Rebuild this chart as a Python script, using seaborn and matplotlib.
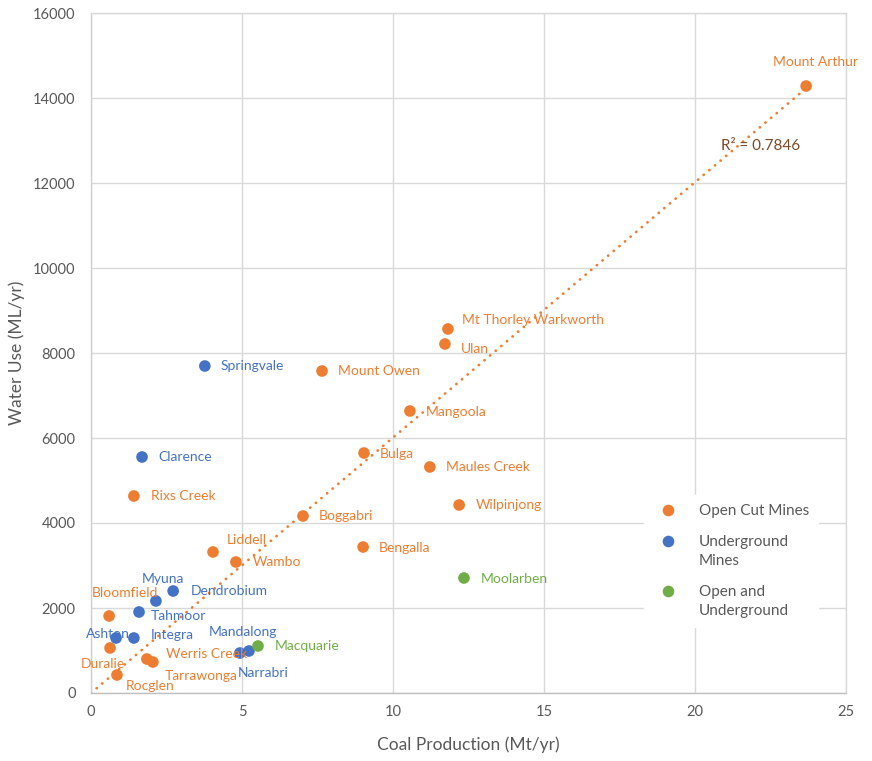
import numpy as np
import pandas as pd
import matplotlib
matplotlib.use("Agg")
import matplotlib.pyplot as plt
import seaborn as sns

# ---------------- data ----------------
open_names = ["Mount Arthur", "Mt Thorley Warkworth", "Ulan", "Mount Owen", "Mangoola",
              "Bulga", "Maules Creek", "Wilpinjong", "Boggabri", "Bengalla", "Rixs Creek",
              "Liddell", "Wambo", "Bloomfield", "Duralie", "Werris Creek", "Tarrawonga", "Rocglen"]
open_x = [23.68, 11.82, 11.72, 7.65, 10.56, 9.04, 11.22, 12.19, 7.02, 9.01, 1.42,
          4.04, 4.80, 0.60, 0.63, 1.85, 2.05, 0.86]
open_y = [14282, 8565, 8212, 7576, 6635, 5647, 5318, 4424, 4165, 3435, 4635,
          3318, 3082, 1812, 1059, 800, 729, 424]

under_names = ["Springvale", "Clarence", "Myuna", "Dendrobium", "Tahmoor", "Ashton",
               "Integra", "Mandalong", "Narrabri"]
under_x = [3.77, 1.69, 2.72, 2.15, 1.59, 0.83, 1.42, 4.93, 5.23]
under_y = [7694, 5553, 2400, 2165, 1906, 1294, 1294, 941, 988]

both_names = ["Moolarben", "Macquarie"]
both_x = [12.35, 5.53]
both_y = [2706, 1106]

categories = ["Open Cut Mines", "Underground\nMines", "Open and\nUnderground"]
colors = ["#ED7D31", "#4472C4", "#70AD47"]
r2_text = "R² = 0.7846"

x_ticks = [0, 5, 10, 15, 20, 25]
y_ticks = [0, 2000, 4000, 6000, 8000, 10000, 12000, 14000, 16000]

# label offsets in pixels (dx, dy) relative to marker
label_offsets = {
    "Mount Arthur": (9, 24), "Mt Thorley Warkworth": (14, 9), "Ulan": (16, -5),
    "Mount Owen": (16, 0), "Mangoola": (16, -1), "Bulga": (16, -1),
    "Maules Creek": (16, 0), "Wilpinjong": (17, 0), "Boggabri": (16, 0),
    "Bengalla": (16, -1), "Rixs Creek": (17, 0), "Liddell": (14, 12),
    "Wambo": (17, 0), "Bloomfield": (-17, 23), "Duralie": (-29, -16),
    "Werris Creek": (19, 5), "Tarrawonga": (12, -14), "Rocglen": (9, -11),
    "Springvale": (16, 0), "Clarence": (16, 0), "Myuna": (-31, 12),
    "Dendrobium": (35, 10), "Tahmoor": (12, -4), "Ashton": (-30, 4),
    "Integra": (17, 3), "Mandalong": (-31, 21), "Narrabri": (-11, -22),
    "Moolarben": (17, -1), "Macquarie": (17, 0),
}

df = pd.DataFrame({
    "name": open_names + under_names + both_names,
    "x": open_x + under_x + both_x,
    "y": open_y + under_y + both_y,
    "type": [categories[0]] * len(open_names) + [categories[1]] * len(under_names)
            + [categories[2]] * len(both_names),
})

# ---------------- style ----------------
sns.set_theme(style="white")
plt.rcParams["font.family"] = ["Lato", "DejaVu Sans"]

fig = plt.figure(figsize=(8.72, 7.61), dpi=100)
ax = fig.add_axes([91 / 872, 1 - 693 / 761, 755 / 872, 680 / 761])

grid_c = "#d9d9d9"
text_c = "#595959"

sns.scatterplot(data=df, x="x", y="y", hue="type", hue_order=categories,
                palette=colors, s=70, edgecolor="none", linewidth=0, ax=ax, zorder=3)

# trend line (least squares through origin, open cut mines)
ox = np.array(open_x)
oy = np.array(open_y)
slope = (ox * oy).sum() / (ox * ox).sum()
tx = np.array([0, ox.max()])
ax.plot(tx, slope * tx, color="#ED7D31", lw=2.0, linestyle=(0, (0.05, 2.6)),
        dash_capstyle="round", solid_capstyle="round", zorder=2)
ax.text(20.85, 12860, r2_text, color="#7a4a26", fontsize=11, va="center", ha="left", zorder=4)

# data labels
col_map = dict(zip(categories, colors))
for _, r in df.iterrows():
    dx, dy = label_offsets[r["name"]]
    ha = "center" if r["name"] == "Mount Arthur" else "left"
    ax.annotate(r["name"], (r["x"], r["y"]), xytext=(dx, dy), textcoords="offset pixels",
                ha=ha, va="center", fontsize=10, color=col_map[r["type"]], zorder=4)

ax.set_xlim(0, 25)
ax.set_ylim(0, 16000)
ax.set_xticks(x_ticks)
ax.set_yticks(y_ticks)
ax.set_xticklabels([str(t) for t in x_ticks])
ax.set_yticklabels([str(t) for t in y_ticks])
ax.tick_params(axis="both", length=0, labelsize=10.5, labelcolor=text_c)
ax.tick_params(axis="y", pad=11)
ax.tick_params(axis="x", pad=9)
ax.grid(True, color=grid_c, lw=1)
ax.set_axisbelow(True)
for sp in ax.spines.values():
    sp.set_color(grid_c)
    sp.set_linewidth(1)
ax.spines["bottom"].set_color("#bfbfbf")
ax.spines["left"].set_color("#d0d0d0")

ax.set_xlabel("Coal Production (Mt/yr)", fontsize=12.5, color=text_c, labelpad=12)
ax.set_ylabel("Water Use (ML/yr)", fontsize=12.5, color=text_c, labelpad=6)

handles, labels = ax.get_legend_handles_labels()
leg = ax.legend(handles, labels, loc="upper left", bbox_to_anchor=(0.722, 0.302),
                frameon=True, facecolor="white", edgecolor="white", framealpha=1,
                fontsize=11, labelspacing=1.1, handletextpad=1.0, borderpad=0.6,
                handleheight=1.0, markerscale=1.0, fancybox=False)
for t in leg.get_texts():
    t.set_color(text_c)
    t.set_linespacing(1.45)
# align markers with the first line of multi-line labels
try:
    for col in leg._legend_handle_box.get_children():
        for item in col.get_children():
            item.align = "top"
except Exception:
    pass
leg.set_zorder(5)

fig.savefig("out.png", dpi=100)
